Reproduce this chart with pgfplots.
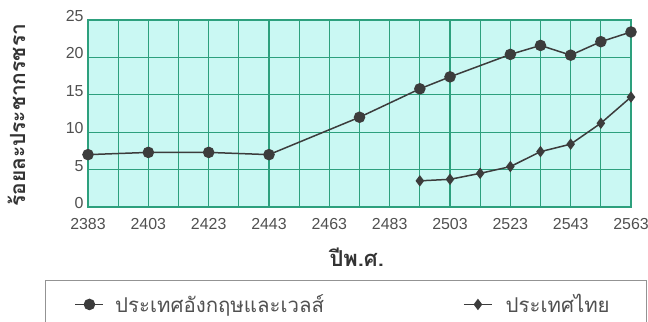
\documentclass[border=0pt]{standalone}
\usepackage{fontspec}
\setmainfont{Liberation Sans}
\newfontfamily\thai[Script=Thai]{Loma}
\usepackage{pgfplots}
\pgfplotsset{compat=1.18}
\definecolor{bgc}{RGB}{202,248,243}
\definecolor{gridc}{RGB}{45,160,125}
\definecolor{ser}{RGB}{60,60,60}
\definecolor{txt}{RGB}{80,80,80}
\begin{document}
\begin{tikzpicture}
\useasboundingbox (0,0) rectangle (648bp,322bp);
\begin{axis}[
  at={(88bp,115bp)}, anchor=south west,
  scale only axis, width=543bp, height=187bp,
  xmin=2383, xmax=2563, ymin=0, ymax=25,
  xtick={2383,2403,...,2563},
  minor xtick={2393,2413,...,2553},
  ytick={0,5,...,25},
  grid=both,
  major grid style={gridc, line width=1.1bp},
  minor grid style={gridc, line width=1.1bp},
  axis line style={gridc, line width=1.1bp},
  axis background/.style={fill=bgc},
  major tick length=0pt, minor tick length=0pt,
  /pgf/number format/assume math mode=true,
  /pgf/number format/1000 sep={},
  tick label style={font=\fontsize{16}{18}\selectfont, text=txt},
  xticklabel style={yshift=-8bp, inner xsep=1bp},
  yticklabel style={xshift=-1bp, yshift=4bp},
  xlabel={\thai\bfseries ปีพ.ศ.},
  ylabel={\thai\bfseries ร้อยละประชากรชรา},
  xlabel style={at={(axis description cs:0.495,-0.27)}, anchor=center, font=\fontsize{22}{24}\selectfont, text=black!80},
  ylabel style={at={(axis description cs:-0.132,0.49)}, anchor=center, rotate=0, font=\fontsize{21}{23}\selectfont, text=black!80},
  clip=false,
  legend columns=2,
  legend style={at={(axis description cs:-0.079,-0.39)}, anchor=north west,
    draw=gray!85, line width=1.2bp, fill=white,
    inner xsep=29bp, inner ysep=12bp,
    font=\thai\fontsize{20.5}{24}\selectfont, text=txt},
  legend cell align=left,
  legend image code/.code={\draw[mark repeat=2,mark phase=2,#1] plot coordinates {(0bp,0bp) (14bp,0bp) (28bp,0bp)};},
]
\addplot[ser, line width=1.5bp, mark=*, mark size=5bp, mark options={fill=ser, draw=ser}]
 coordinates {(2383,7.0) (2403,7.3) (2423,7.3) (2443,7.0) (2473,12.0) (2493,15.8) (2503,17.4) (2523,20.4) (2533,21.6) (2543,20.3) (2553,22.1) (2563,23.4)};
\addlegendentry{\makebox[355bp][l]{\hspace*{9bp}ประเทศอังกฤษและเวลส์}}
\addplot[ser, line width=1.5bp, mark=diamond*, mark size=4.5bp, mark options={fill=ser, draw=ser}]
 coordinates {(2493,3.5) (2503,3.7) (2513,4.5) (2523,5.4) (2533,7.4) (2543,8.4) (2553,11.2) (2563,14.7)};
\addlegendentry{\makebox[121bp][l]{\hspace*{11bp}ประเทศไทย}}
\end{axis}
\end{tikzpicture}
\end{document}
